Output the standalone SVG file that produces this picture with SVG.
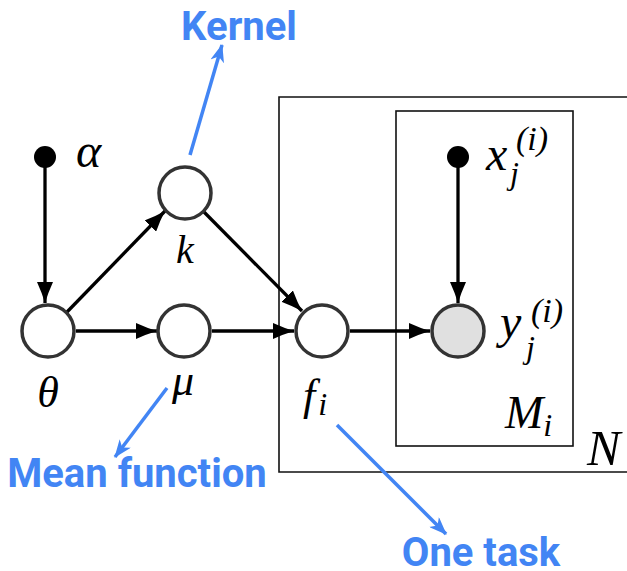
<svg xmlns="http://www.w3.org/2000/svg" width="627" height="571" viewBox="0 0 627 571">
<defs>
<style>
.node{fill:#fff;stroke:#333;stroke-width:3.5}
.obs{fill:#e0e0e0;stroke:#333;stroke-width:3.5}
.dot{fill:#000}
.plate{fill:none;stroke:#111;stroke-width:1.6}
.edge{stroke:#000;stroke-width:3.3;fill:none;marker-end:url(#ah)}
.note{stroke:#4285f4;stroke-width:3.5;fill:none;marker-end:url(#bh)}
.math{font-family:"Liberation Serif","DejaVu Serif",serif;font-style:italic;fill:#000}
.lbl{font-family:Roboto,"Liberation Sans",sans-serif;font-weight:bold;fill:#4285f4;font-size:40px}
</style>
<marker id="ah" viewBox="0 0 21 16" refX="21" refY="8" markerWidth="21" markerHeight="16" markerUnits="userSpaceOnUse" orient="auto">
<path d="M0,0 Q11,5 21,8 Q11,11 0,16 z" fill="#000"/>
</marker>
<marker id="bh" viewBox="0 0 18 14" refX="17" refY="7" markerWidth="18" markerHeight="14" markerUnits="userSpaceOnUse" orient="auto">
<path d="M0,0 L18,7 L0,14 L5,7 z" fill="#4285f4"/>
</marker>
</defs>
<rect width="627" height="571" fill="#fff"/>
<g id="plate-N">
<path class="plate" d="M640,97 H279 V472 H640"/>
<text class="math" x="587" y="465" font-size="50">N</text>
</g>
<g id="plate-M">
<rect class="plate" x="396" y="111" width="177" height="335"/>
<text class="math" x="505" y="428" font-size="46">M<tspan font-size="32" dy="8">i</tspan></text>
</g>
<g id="edges">
<line class="edge" x1="45" y1="166" x2="45" y2="303"/>
<line class="edge" x1="67" y1="312" x2="165" y2="211"/>
<line class="edge" x1="76" y1="331" x2="157" y2="331"/>
<line class="edge" x1="204" y1="212" x2="302" y2="311"/>
<line class="edge" x1="212" y1="331" x2="294" y2="331"/>
<line class="edge" x1="350" y1="331" x2="430" y2="331"/>
<line class="edge" x1="458" y1="166" x2="458" y2="303"/>
</g>
<g id="alpha">
<circle class="dot" cx="45" cy="157" r="11"/>
<text class="math" x="76" y="167" font-size="48">α</text>
</g>
<g id="theta">
<circle class="node" cx="48" cy="331" r="26"/>
<text class="math" x="48" y="407" font-size="44" text-anchor="middle">θ</text>
</g>
<g id="k">
<circle class="node" cx="185" cy="193" r="26"/>
<text class="math" x="185" y="263" font-size="40" text-anchor="middle">k</text>
</g>
<g id="mu">
<circle class="node" cx="184" cy="331" r="26"/>
<text class="math" x="183" y="395" font-size="44" text-anchor="middle">μ</text>
</g>
<g id="f">
<circle class="node" cx="322" cy="331" r="26"/>
<text class="math" x="303" y="410" font-size="44">f<tspan font-size="32" dx="3" dy="5">i</tspan></text>
</g>
<g id="x">
<circle class="dot" cx="458" cy="157" r="11"/>
<text class="math" x="486" y="170" font-size="48">x</text>
<text class="math" x="510" y="184" font-size="32">j</text>
<text class="math" x="516" y="150" font-size="34">(i)</text>
</g>
<g id="y">
<circle class="obs" cx="458" cy="331" r="26"/>
<text class="math" x="500" y="338" font-size="48">y</text>
<text class="math" x="526" y="358" font-size="32">j</text>
<text class="math" x="531" y="322" font-size="34">(i)</text>
</g>
<g id="kernel-note">
<line class="note" x1="190" y1="155" x2="222" y2="45"/>
<text class="lbl" x="239" y="40" text-anchor="middle">Kernel</text>
</g>
<g id="mean-note">
<line class="note" x1="167" y1="388" x2="115" y2="457"/>
<text class="lbl" x="137" y="487" text-anchor="middle">Mean function</text>
</g>
<g id="task-note">
<line class="note" x1="337" y1="425" x2="446" y2="534"/>
<text class="lbl" x="481" y="566" text-anchor="middle">One task</text>
</g>
</svg>
